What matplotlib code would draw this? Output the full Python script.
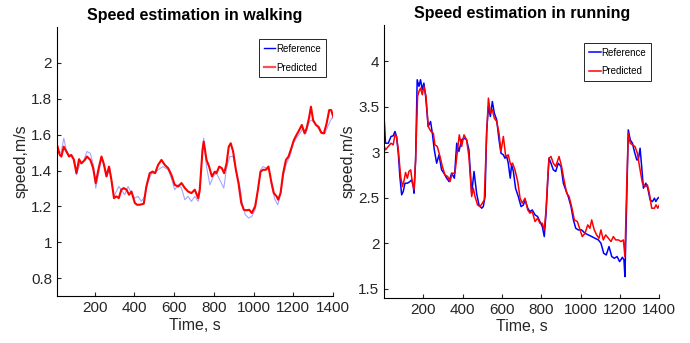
import matplotlib
matplotlib.use("Agg")
import matplotlib.pyplot as plt

plt.rcParams['font.family'] = ['Liberation Sans', 'DejaVu Sans']

# walking
walk_t_ref = [7, 20, 32, 44, 57, 71, 82, 99, 108, 126, 143, 161, 178, 195, 205, 220, 234,
              251, 262, 276, 287, 297, 309, 321, 334, 351, 368, 385, 402, 418, 435, 452,
              469, 487, 504, 519, 544, 570, 586, 603, 620, 637, 654, 670, 687, 704, 721,
              729, 743, 749, 763, 780, 797, 813, 830, 850, 864, 880, 897, 914, 931, 944,
              958, 975, 991, 1008, 1022, 1035, 1048, 1065, 1079, 1091, 1108, 1122, 1133,
              1149, 1166, 1183, 1200, 1216, 1233, 1250, 1264, 1280, 1292, 1309, 1326,
              1343, 1360, 1377, 1393, 1401]
walk_ref = [1.533, 1.496, 1.506, 1.580, 1.515, 1.487, 1.478, 1.459, 1.376, 1.44, 1.45,
            1.506, 1.496, 1.422, 1.302, 1.385, 1.469, 1.422, 1.367, 1.413, 1.33, 1.256,
            1.283, 1.311, 1.293, 1.265, 1.311, 1.274, 1.246, 1.256, 1.228, 1.256, 1.339,
            1.385, 1.385, 1.404, 1.422, 1.404, 1.357, 1.293, 1.320, 1.302, 1.237, 1.256,
            1.228, 1.256, 1.228, 1.274, 1.533, 1.580, 1.422, 1.320, 1.367, 1.385, 1.348,
            1.302, 1.413, 1.478, 1.478, 1.385, 1.311, 1.209, 1.154, 1.135, 1.144, 1.181,
            1.293, 1.404, 1.422, 1.413, 1.404, 1.311, 1.237, 1.209, 1.256, 1.367, 1.44,
            1.478, 1.552, 1.580, 1.607, 1.635, 1.607, 1.672, 1.681, 1.663, 1.635, 1.607,
            1.607, 1.654, 1.691, 1.691]

walk_t_pred = [7, 24, 32, 44, 57, 71, 82, 94, 108, 121, 133, 150, 161, 178, 192, 205, 220,
               234, 245, 259, 272, 284, 297, 309, 321, 334, 346, 360, 373, 385, 402, 413,
               427, 447, 460, 477, 491, 504, 519, 536, 553, 570, 586, 603, 620, 637, 654,
               670, 687, 704, 721, 729, 743, 749, 763, 776, 790, 805, 813, 827, 840, 852,
               864, 875, 885, 897, 911, 924, 938, 951, 964, 978, 991, 1008, 1022, 1035,
               1048, 1062, 1075, 1089, 1102, 1116, 1124, 1136, 1149, 1163, 1176, 1190,
               1203, 1216, 1230, 1243, 1257, 1267, 1279, 1289, 1300, 1314, 1327, 1341,
               1354, 1368, 1381, 1391, 1401]
walk_pred = [1.556, 1.487, 1.478, 1.533, 1.506, 1.478, 1.487, 1.463, 1.385, 1.463, 1.44,
             1.459, 1.478, 1.459, 1.413, 1.33, 1.413, 1.478, 1.44, 1.367, 1.422, 1.348,
             1.246, 1.256, 1.246, 1.293, 1.302, 1.293, 1.265, 1.283, 1.219, 1.209, 1.209,
             1.215, 1.311, 1.385, 1.394, 1.385, 1.431, 1.459, 1.431, 1.413, 1.376, 1.320,
             1.311, 1.33, 1.302, 1.283, 1.274, 1.293, 1.246, 1.293, 1.515, 1.561, 1.459,
             1.422, 1.367, 1.394, 1.385, 1.422, 1.413, 1.385, 1.44, 1.533, 1.552, 1.506,
             1.404, 1.33, 1.219, 1.181, 1.178, 1.181, 1.163, 1.2, 1.293, 1.394, 1.404,
             1.404, 1.422, 1.339, 1.274, 1.256, 1.237, 1.274, 1.385, 1.459, 1.478, 1.524,
             1.57, 1.598, 1.626, 1.654, 1.607, 1.635, 1.691, 1.756, 1.681, 1.654, 1.644,
             1.611, 1.607, 1.663, 1.737, 1.737, 1.7]

# running
run_t_ref = [2, 8, 22, 36, 47, 56, 64, 73, 81, 90, 98, 107, 120, 132, 141, 149, 153, 161,
             169, 178, 186, 195, 203, 212, 225, 237, 246, 256, 268, 280, 293, 305, 319,
             331, 344, 358, 370, 381, 395, 407, 420, 432, 446, 458, 471, 483, 497, 505,
             514, 522, 531, 541, 551, 561, 573, 585, 595, 607, 615, 624, 632, 642, 649,
             658, 669, 683, 697, 709, 717, 731, 742, 754, 768, 781, 793, 805, 815, 824,
             832, 839, 849, 861, 873, 886, 900, 912, 924, 937, 951, 963, 975, 988, 1005,
             1022, 1039, 1056, 1073, 1090, 1103, 1117, 1130, 1144, 1158, 1171, 1185,
             1198, 1212, 1220, 1225, 1234, 1242, 1252, 1263, 1273, 1285, 1293, 1302,
             1310, 1319, 1331, 1341, 1353, 1365, 1375, 1382, 1392, 1400]
run_ref = [3.339, 3.10, 3.10, 3.174, 3.181, 3.229, 3.174, 2.99, 2.733, 2.532, 2.568, 2.66,
           2.66, 2.678, 2.697, 2.623, 2.55, 2.917, 3.798, 3.725, 3.798, 3.688, 3.761,
           3.615, 3.284, 3.339, 3.21, 3.027, 2.88, 2.972, 2.807, 2.77, 2.715, 2.678, 2.77,
           2.715, 3.10, 3.009, 3.137, 3.156, 3.137, 3.027, 2.55, 2.789, 2.55, 2.421, 2.385,
           2.403, 2.513, 3.229, 3.504, 3.394, 3.559, 3.431, 3.358, 3.137, 2.99, 2.972,
           2.935, 2.954, 2.88, 2.715, 2.862, 2.789, 2.605, 2.513, 2.403, 2.421, 2.477,
           2.385, 2.348, 2.366, 2.311, 2.293, 2.238, 2.183, 2.073, 2.33, 2.66, 2.935, 2.88,
           2.807, 2.789, 2.88, 2.844, 2.66, 2.587, 2.513, 2.403, 2.256, 2.164, 2.146, 2.146,
           2.109, 2.091, 2.073, 2.054, 2.036, 2.0, 1.889, 1.871, 1.963, 1.853, 1.834,
           1.853, 1.797, 1.845, 1.816, 1.632, 2.477, 3.247, 3.137, 3.10, 3.009, 2.917,
           2.917, 3.045, 2.844, 2.605, 2.66, 2.605, 2.477, 2.458, 2.495, 2.458, 2.495, 2.506]

run_t_pred = [2, 8, 22, 36, 47, 56, 64, 73, 85, 94, 103, 110, 119, 127, 136, 144, 153, 161,
              171, 178, 186, 195, 203, 214, 225, 239, 251, 259, 271, 285, 297, 310, 324,
              336, 347, 361, 375, 383, 395, 407, 420, 432, 446, 454, 463, 476, 488, 500,
              510, 522, 531, 541, 551, 561, 573, 585, 595, 607, 619, 632, 644, 654, 666,
              680, 692, 703, 717, 731, 742, 754, 768, 781, 793, 805, 815, 824, 832, 839,
              849, 861, 873, 890, 903, 915, 929, 941, 954, 968, 983, 997, 1008, 1022, 1036,
              1047, 1056, 1069, 1081, 1093, 1103, 1115, 1127, 1141, 1154, 1166, 1178, 1192,
              1205, 1217, 1225, 1234, 1242, 1252, 1263, 1276, 1288, 1302, 1314, 1327, 1339,
              1349, 1361, 1375, 1383, 1392, 1400]
run_pred = [3.064, 3.027, 3.064, 3.10, 3.082, 3.192, 3.174, 3.027, 2.733, 2.623, 2.697,
            2.778, 2.715, 2.789, 2.807, 2.678, 2.587, 2.917, 3.615, 3.67, 3.706, 3.633,
            3.725, 3.615, 3.284, 3.229, 3.21, 3.082, 3.064, 2.954, 2.844, 2.752, 2.733,
            2.678, 2.77, 2.77, 3.045, 3.192, 3.064, 3.192, 3.137, 2.954, 2.513, 2.605,
            2.513, 2.421, 2.403, 2.44, 2.477, 3.192, 3.596, 3.431, 3.468, 3.376, 3.339,
            3.21, 3.009, 3.174, 2.954, 2.972, 2.862, 2.88, 2.807, 2.678, 2.495, 2.44, 2.495,
            2.366, 2.33, 2.348, 2.238, 2.275, 2.219, 2.219, 2.146, 2.366, 2.697, 2.935,
            2.954, 2.88, 2.844, 2.954, 2.844, 2.697, 2.55, 2.513, 2.403, 2.256, 2.238,
            2.146, 2.073, 2.109, 2.201, 2.164, 2.256, 2.146, 2.091, 2.054, 2.146, 2.036,
            2.091, 2.054, 2.018, 2.073, 2.036, 2.036, 2.018, 2.036, 1.853, 2.623, 3.21,
            3.10, 3.082, 3.064, 2.99, 2.807, 2.66, 2.623, 2.642, 2.55, 2.385, 2.385, 2.421,
            2.385, 2.421]

fig = plt.figure(figsize=(6.9, 3.43), dpi=100)
ax1 = fig.add_axes([0.0826, 0.137, 0.400, 0.784])
ax2 = fig.add_axes([0.557, 0.132, 0.3986, 0.795])

ax1.plot(walk_t_ref, walk_ref, color='#4a4aff', lw=0.8, alpha=0.5, label='_nolegend_')
ax1.plot(walk_t_pred, walk_pred, color='red', lw=1.5, label='_nolegend_')
# legend proxies
ax1.plot([], [], color='blue', lw=1.0, label='Reference')
ax1.plot([], [], color='#ff5050', lw=1.6, label='Predicted')
ax1.set_xlim(10, 1400)
ax1.set_ylim(0.7, 2.2)
ax1.set_yticks([0.8, 1, 1.2, 1.4, 1.6, 1.8, 2])
ax1.set_yticklabels(['0.8', '1', '1.2', '1.4', '1.6', '1.8', '2'])
ax1.set_title('Speed estimation in walking', fontsize=11.5, fontweight='bold', pad=5)

ax2.plot(run_t_ref, run_ref, color='blue', lw=1.1, label='Reference')
ax2.plot(run_t_pred, run_pred, color='red', lw=1.1, label='Predicted')
ax2.set_xlim(2, 1400)
ax2.set_ylim(1.4, 4.4)
ax2.set_yticks([1.5, 2, 2.5, 3, 3.5, 4])
ax2.set_yticklabels(['1.5', '2', '2.5', '3', '3.5', '4'])
ax2.set_title('Speed estimation in running', fontsize=11.5, fontweight='bold', pad=5)

for ax, anchor in ((ax1, (0.982, 0.963)), (ax2, (0.977, 0.942))):
    ax.set_xticks([200, 400, 600, 800, 1000, 1200, 1400])
    ax.spines['top'].set_visible(False)
    ax.spines['right'].set_visible(False)
    ax.tick_params(direction='in', length=3, labelsize=11, colors='#262626')
    ax.set_xlabel('Time, s', fontsize=11.5, color='#262626', labelpad=2)
    ax.set_ylabel('speed,m/s', fontsize=11.5, color='#262626', labelpad=2)
    leg = ax.legend(loc='upper right', bbox_to_anchor=anchor, fontsize=7,
                    handlelength=1.2, handletextpad=0.1, borderpad=0.5,
                    borderaxespad=0.2, labelspacing=0.9, fancybox=False, framealpha=1)
    leg.get_frame().set_edgecolor('#262626')
    leg.get_frame().set_linewidth(0.7)

fig.savefig('out.png', dpi=100)
